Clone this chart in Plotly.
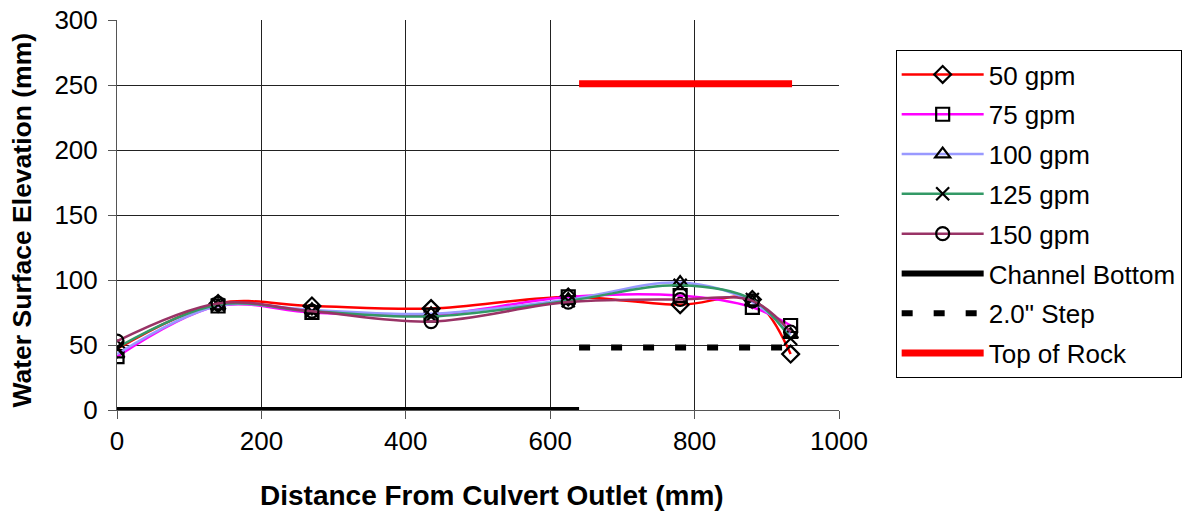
import plotly.graph_objects as go

# Measurement stations along the culvert (mm from outlet)
distance = [0, 140, 270, 435, 625, 780, 880, 933]

# Water surface elevation (mm) for each flow rate
wse_50 = [47, 82, 80, 78, 87, 81, 85, 43]
wse_75 = [41, 80, 75, 73, 87, 88, 79, 65]
wse_100 = [43, 80, 77, 74, 85, 98, 83, 58]
wse_125 = [48, 81, 76, 72, 84, 96, 85, 55]
wse_150 = [53, 82, 76, 68, 83, 85, 84, 60]

# Reference geometry
bottom_x = [0, 640]
bottom_y = [0, 0]
step_x = [640, 935]
step_y = [48, 48]
rock_x = [640, 935]
rock_y = [251, 251]

FONT = "Liberation Sans, Arial, sans-serif"

series = [
    ("50 gpm", wse_50, "#FF0000", "diamond-open"),
    ("75 gpm", wse_75, "#FF00FF", "square-open"),
    ("100 gpm", wse_100, "#9999FF", "triangle-up-open"),
    ("125 gpm", wse_125, "#339966", "x-thin-open"),
    ("150 gpm", wse_150, "#993366", "circle-open"),
]

fig = go.Figure()

for i, (name, ys, color, symbol) in enumerate(series):
    fig.add_trace(go.Scatter(
        x=distance, y=ys, name=name, mode="lines+markers",
        legendgroup=f"g{i}",
        line=dict(color=color, width=2.5, shape="spline", smoothing=1.0),
        marker=dict(symbol=symbol, size=13, color="black",
                    line=dict(color="black", width=2.2)),
    ))

fig.add_trace(go.Scatter(
    x=bottom_x, y=bottom_y, name="Channel Bottom", mode="lines",
    legendgroup="g5", line=dict(color="black", width=6),
))
fig.add_trace(go.Scatter(
    x=step_x, y=step_y, name='2.0" Step', mode="lines",
    legendgroup="g6", line=dict(color="black", width=6, dash="11px,21px"),
))
fig.add_trace(go.Scatter(
    x=rock_x, y=rock_y, name="Top of Rock", mode="lines",
    legendgroup="g7", line=dict(color="#FF0000", width=7),
))

# Axis titles placed as paper annotations
fig.add_annotation(
    text="<b>Distance From Culvert Outlet (mm)</b>",
    xref="paper", yref="paper", x=0.52, y=-0.218,
    xanchor="center", yanchor="middle", showarrow=False,
    font=dict(family=FONT, size=28, color="black"),
)
fig.add_annotation(
    text="<b>Water Surface Elevation (mm)</b>",
    xref="paper", yref="paper", x=-0.131, y=0.487,
    xanchor="center", yanchor="middle", textangle=-90, showarrow=False,
    font=dict(family=FONT, size=26.5, color="black"),
)

fig.update_layout(
    width=1193, height=513,
    margin=dict(l=117, r=353, t=20, b=103),
    paper_bgcolor="white", plot_bgcolor="white",
    font=dict(family=FONT, size=26, color="black"),
    showlegend=True,
    legend=dict(
        x=1.077, y=0.923, xanchor="left", yanchor="top",
        bordercolor="black", borderwidth=1, bgcolor="white",
        font=dict(family=FONT, size=26, color="black"),
        itemwidth=82, tracegroupgap=3,
    ),
    xaxis=dict(
        range=[0, 1000], dtick=200, showgrid=True, gridcolor="#222222",
        gridwidth=1, zeroline=False, showline=True, linecolor="#555555",
        ticks="outside", ticklen=8, tickcolor="#555555", automargin=False,
        tickfont=dict(family=FONT, size=26),
    ),
    yaxis=dict(
        range=[0, 300], dtick=50, showgrid=True, gridcolor="#222222",
        gridwidth=1, zeroline=False, showline=True, linecolor="#555555",
        ticks="outside", ticklen=8, tickcolor="#555555", automargin=False,
        ticklabelstandoff=5,
        tickfont=dict(family=FONT, size=26),
    ),
)

fig.write_html("out.html")
